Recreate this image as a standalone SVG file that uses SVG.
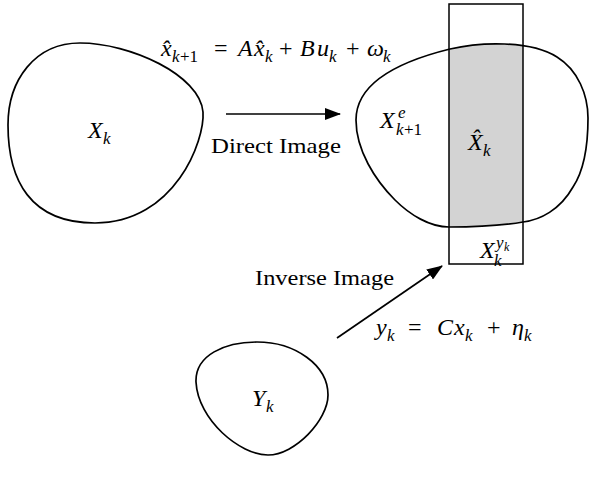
<svg xmlns="http://www.w3.org/2000/svg" width="589" height="481" viewBox="0 0 589 481">
<style>
.blob{fill:none;stroke:#000;stroke-width:1.7}
.m{font-family:"Liberation Serif",serif;font-style:italic;font-size:24px;fill:#000}
.r{font-family:"Liberation Serif",serif;font-size:24px;fill:#000}
.s{font-family:"Liberation Serif",serif;font-style:italic;font-size:17px;fill:#000}
.sr{font-family:"Liberation Serif",serif;font-size:17px;fill:#000}
.ss{font-family:"Liberation Serif",serif;font-style:italic;font-size:12px;fill:#000}
.lbl{font-family:"Liberation Serif",serif;font-size:21px;fill:#000}
.conn{stroke:#000;stroke-width:1.7;fill:none}
</style>
<defs>
<marker id="ah" markerWidth="16" markerHeight="12" refX="15" refY="6" orient="auto" markerUnits="userSpaceOnUse">
<path d="M0,0 L16,6 L0,12 Z" fill="#000"/>
</marker>
<clipPath id="blobclip">
<path d="M356,120 C356,90 385,65 450,49 C480,42 530,40 557,57 C578,70 588,95 588,118 C588,150 583,172 573,187 C560,210 540,220 523,222 C500,226 470,227 449,227 C430,227 410,215 395,200 C375,180 356,150 356,120 Z"/>
</clipPath>
</defs>

<g id="node-Xk">
<path class="blob" d="M80,43 C130,43 200,75 203,112 C205,140 175,223 95,223 C30,223 8,180 8,125 C8,80 35,43 80,43 Z"/>
<text class="m" x="88" y="138">X</text><text class="s" x="103" y="144">k</text>
</g>

<g id="node-Xe">
<rect x="449" y="4" width="74" height="260" fill="#d3d3d3" clip-path="url(#blobclip)"/>
<path class="blob" d="M356,120 C356,90 385,65 450,49 C480,42 530,40 557,57 C578,70 588,95 588,118 C588,150 583,172 573,187 C560,210 540,220 523,222 C500,226 470,227 449,227 C430,227 410,215 395,200 C375,180 356,150 356,120 Z"/>
<text class="m" x="380" y="128">X</text><text class="s" x="398" y="118">e</text><text class="s" x="396" y="135">k</text><text class="sr" x="404" y="135">+1</text>
</g>

<g id="node-Xyk">
<rect x="449" y="4" width="74" height="260" fill="none" stroke="#000" stroke-width="1.5"/>
<text class="m" x="468" y="150">X̂</text><text class="s" x="483" y="156">k</text>
<text class="m" x="480" y="258">X</text><text class="s" x="496" y="248">y</text><text class="ss" x="504" y="251">k</text><text class="s" x="494" y="266">k</text>
</g>

<g id="node-Yk">
<path class="blob" d="M257,342 C295,342 328,365 328,395 C328,420 295,455 268,455 C240,455 198,420 196,382 C195,355 225,342 257,342 Z"/>
<text class="m" x="252" y="406">Y</text><text class="s" x="266" y="412">k</text>
</g>

<g id="connectors">
<line class="conn" x1="226" y1="114" x2="340" y2="114" marker-end="url(#ah)"/>
<line class="conn" x1="337" y1="338" x2="442" y2="266" marker-end="url(#ah)"/>
</g>

<g id="labels">
<text class="lbl" x="211" y="153" textLength="130" lengthAdjust="spacingAndGlyphs">Direct Image</text>
<text class="lbl" x="255" y="285" textLength="139" lengthAdjust="spacingAndGlyphs">Inverse Image</text>
<text class="m" x="161" y="56">x̂</text>
<text class="s" x="172" y="62">k</text><text class="sr" x="180" y="62">+1</text>
<text class="r" x="214" y="56">=</text>
<text class="m" x="238" y="56">A</text>
<text class="m" x="254" y="56">x̂</text><text class="s" x="265" y="62">k</text>
<text class="r" x="279" y="56">+</text>
<text class="m" x="300" y="56">B</text><text class="m" x="317" y="56">u</text><text class="s" x="329" y="62">k</text>
<text class="r" x="346" y="56">+</text>
<text class="m" x="367" y="56">ω</text><text class="s" x="383" y="62">k</text>
<text class="m" x="376" y="335">y</text><text class="s" x="387" y="341">k</text>
<text class="r" x="408" y="335">=</text>
<text class="m" x="437" y="335">C</text><text class="m" x="454" y="335">x</text><text class="s" x="465" y="341">k</text>
<text class="r" x="487" y="335">+</text>
<text class="m" x="512" y="335">η</text><text class="s" x="524" y="341">k</text>
</g>
</svg>
